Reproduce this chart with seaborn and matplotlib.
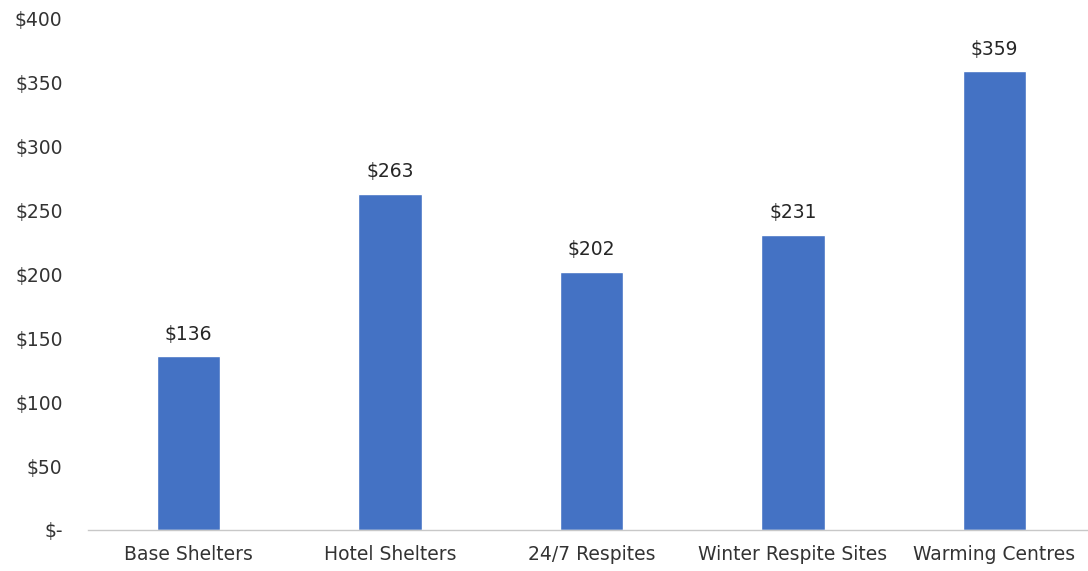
import matplotlib
matplotlib.use("Agg")
import matplotlib.pyplot as plt
import seaborn as sns
import pandas as pd

# chart values
categories = ["Base Shelters", "Hotel Shelters", "24/7 Respites",
              "Winter Respite Sites", "Warming Centres"]
costs = [136, 263, 202, 231, 359]
y_ticks = [0, 50, 100, 150, 200, 250, 300, 350, 400]
y_tick_labels = ["$-", "$50", "$100", "$150", "$200", "$250", "$300", "$350", "$400"]

df = pd.DataFrame({"category": categories, "cost": costs})

sns.set_style("white")
plt.rcParams["font.family"] = ["DejaVu Sans"]

fig = plt.figure(figsize=(10.88, 5.71), dpi=100)
ax = fig.add_axes([0.0805, 0.072, 0.926, 0.895])

sns.barplot(data=df, x="category", y="cost", color="#4472C4",
            saturation=1, width=0.315, ax=ax)

for i, v in enumerate(costs):
    ax.annotate(f"${v}", (i, v), xytext=(0, 9), textcoords="offset points",
                ha="center", va="bottom", fontsize=13.5, color="#262626")

ax.set_ylim(0, 400)
ax.set_xlim(-0.5, 4.5)
ax.set_yticks(y_ticks)
ax.set_yticklabels(y_tick_labels)
ax.set_xlabel("")
ax.set_ylabel("")
ax.tick_params(axis="both", length=0, labelsize=13.5, colors="#333333")
ax.tick_params(axis="y", pad=18)
ax.tick_params(axis="x", pad=11)

for s in ["top", "right", "left"]:
    ax.spines[s].set_visible(False)
ax.spines["bottom"].set_color("#C8C8C8")
ax.spines["bottom"].set_linewidth(1)

fig.savefig("out.png", dpi=100)
